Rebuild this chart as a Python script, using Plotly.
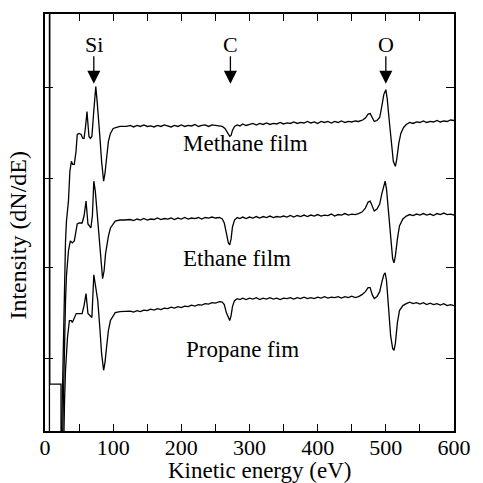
import plotly.graph_objects as go

# ---------------- data: (kinetic energy eV, intensity a.u.) ----------------
methane_pts = [
    (6.5, 63), (6.5, -5), (24.4, 0.0), (25.8, 5.1), (27.2, 11.1), (28.7, 16.1), (30.1, 19.1),
    (31.5, 21.1), (34.4, 23.1), (36.5, 26.1), (38.7, 27.1), (40.5, 26.8), (43.0, 26.8),
    (45.5, 28.1), (47.3, 29.8), (50.0, 29.9), (53.0, 29.8), (55.5, 29.4), (57.3, 29.4),
    (59.5, 30.6), (61.6, 32.1), (63.3, 30.6), (64.5, 29.6), (66.5, 29.4), (68.8, 29.6),
    (71.5, 32.1), (74.5, 34.6), (76.5, 33.1), (78.8, 31.4), (81.0, 29.1), (83.0, 27.1),
    (86.0, 25.1), (88.0, 25.9), (90.0, 27.4), (93.0, 29.1), (96.0, 29.9), (100, 30.4),
    (105, 30.5), (110, 30.6), (117, 30.6),
    (120, 30.6), (125, 30.7), (130, 30.55), (135, 30.7), (140, 30.6), (145, 30.75), (150, 30.6),
    (155, 30.65), (160, 30.55), (165, 30.7), (170, 30.6), (175, 30.75), (180, 30.65),
    (185, 30.55), (190, 30.7), (195, 30.6), (200, 30.75), (205, 30.6), (210, 30.7), (215, 30.65),
    (220, 30.8), (225, 30.6), (230, 30.7), (235, 30.75), (240, 30.6), (245, 30.75), (250, 30.7),
    (255, 30.65), (260, 30.6), (264, 30.4), (268, 30.0), (271, 29.6), (273, 29.7), (275, 30.2),
    (278, 30.6), (282, 30.75), (286, 30.65), (290, 30.85), (295, 30.7), (300, 30.8), (305, 30.9),
    (310, 30.75), (315, 30.9), (320, 30.8), (325, 30.95), (330, 30.8), (335, 30.9), (340, 30.85),
    (345, 31.0), (350, 30.85), (355, 30.95), (360, 30.9), (365, 31.05), (370, 30.9), (375, 31.0),
    (380, 30.95), (385, 31.1), (390, 30.95), (395, 31.05), (400, 30.9), (405, 31.1), (410, 31.0),
    (415, 31.1), (420, 30.95), (425, 31.1), (430, 31.0), (435, 31.15), (440, 31.0), (445, 31.1),
    (450, 31.05), (455, 31.15), (460, 31.1), (466, 31.25), (470, 31.45), (474, 31.85),
    (477, 31.9), (480, 31.5), (483, 31.1), (487, 31.2), (491, 31.5), (494, 32.6), (497, 33.8),
    (500, 34.3), (502, 33.4), (505, 31.2), (508, 28.9), (511, 27.1), (514, 26.6), (516, 27.3),
    (519, 28.9), (522, 29.9), (526, 30.5), (530, 30.8), (535, 31.0), (540, 30.9), (545, 31.05),
    (550, 31.0), (555, 31.15), (560, 31.0), (565, 31.1), (570, 31.05), (575, 31.2), (580, 31.05),
    (585, 31.15), (590, 31.1), (595, 31.25), (600, 31.2),
]

ethane_pts = [
    (24.5, -5), (25.8, 0.0), (27.2, 4.1), (28.7, 9.1), (30.1, 13.1), (31.5, 15.6), (33.0, 17.1),
    (34.4, 18.1), (37.2, 19.1), (40.1, 18.9), (43.0, 19.1), (47.3, 20.8), (50.1, 20.9),
    (54.4, 20.9), (57.3, 21.6), (60.2, 23.1), (63.0, 20.8), (67.3, 20.4), (69.5, 21.6),
    (71.6, 25.1), (73.8, 24.1), (75.9, 22.4), (78.8, 20.1), (81.7, 17.8), (84.5, 15.3),
    (86.7, 16.1), (88.8, 17.8), (93.1, 19.6), (96.0, 20.4), (103, 21.1), (110, 21.2), (117, 21.2),
    (125, 21.25), (130, 21.15), (135, 21.3), (140, 21.2), (145, 21.35), (150, 21.2), (155, 21.3),
    (160, 21.25), (165, 21.4), (170, 21.25), (175, 21.35), (180, 21.3), (185, 21.4), (190, 21.25),
    (195, 21.4), (200, 21.3), (205, 21.45), (210, 21.3), (215, 21.4), (220, 21.35), (225, 21.45),
    (230, 21.3), (235, 21.45), (240, 21.4), (245, 21.5), (250, 21.4), (256, 21.45), (260, 21.3),
    (263, 20.9), (266, 19.9), (269, 18.9), (271, 18.7), (273, 19.3), (275, 20.5), (278, 21.2),
    (282, 21.45), (286, 21.35), (290, 21.5), (295, 21.35), (300, 21.5), (305, 21.4), (310, 21.55),
    (315, 21.4), (320, 21.55), (325, 21.45), (330, 21.6), (335, 21.45), (340, 21.55), (345, 21.5),
    (350, 21.6), (355, 21.5), (360, 21.65), (365, 21.5), (370, 21.65), (375, 21.55), (380, 21.7),
    (385, 21.55), (390, 21.7), (395, 21.6), (400, 21.75), (405, 21.6), (410, 21.7), (415, 21.65),
    (420, 21.8), (425, 21.6), (430, 21.75), (435, 21.7), (440, 21.85), (445, 21.7), (450, 21.8),
    (455, 21.75), (460, 21.85), (465, 22.0), (470, 22.4), (474, 23.0), (477, 23.1), (480, 22.5),
    (483, 22.1), (487, 22.3), (491, 22.8), (494, 23.8), (497, 24.8), (499, 25.1), (501, 24.3),
    (504, 21.8), (507, 19.0), (510, 17.3), (512, 16.9), (514, 17.6), (517, 19.3), (520, 20.6),
    (525, 21.3), (530, 21.6), (535, 21.75), (540, 21.65), (545, 21.8), (550, 21.7), (555, 21.85),
    (560, 21.7), (565, 21.8), (570, 21.65), (575, 21.85), (580, 21.75), (585, 21.9), (590, 21.75),
    (595, 21.8), (600, 21.7),
]

propane_pts = [
    (7.0, 60), (7.0, 4.7), (23.5, 4.7), (23.5, -5), (26.5, -5), (27.2, 0.0), (28.7, 3.1),
    (30.1, 6.1), (31.5, 8.1), (33.0, 9.4), (35.8, 11.1), (38.7, 11.1), (40.1, 10.9), (43.0, 11.3),
    (45.8, 11.8), (50.1, 11.8), (54.4, 11.8), (57.3, 12.6), (60.2, 13.8), (63.0, 11.8),
    (65.9, 11.6), (68.8, 11.4), (71.6, 15.7), (74.5, 14.6), (77.4, 13.1), (80.2, 10.6),
    (83.0, 7.8), (86.0, 6.1), (88.0, 6.9), (90.3, 8.4), (93.0, 10.1), (96.0, 11.1), (103, 11.9),
    (110, 12.0), (117, 12.0),
    (125, 12.05), (130, 11.95), (135, 12.1), (140, 12.0), (145, 12.15), (150, 12.1), (155, 12.25),
    (160, 12.15), (165, 12.3), (170, 12.2), (175, 12.35), (180, 12.3), (185, 12.45), (190, 12.35),
    (195, 12.5), (200, 12.4), (205, 12.55), (210, 12.5), (215, 12.65), (220, 12.55), (225, 12.7),
    (230, 12.65), (235, 12.8), (240, 12.75), (245, 12.9), (250, 12.85), (256, 13.0), (260, 12.95),
    (263, 12.7), (266, 11.9), (269, 11.3), (271, 11.1), (273, 11.6), (275, 12.5), (278, 13.1),
    (282, 13.3), (286, 13.2), (290, 13.35), (295, 13.2), (300, 13.35), (305, 13.25), (310, 13.4),
    (315, 13.2), (320, 13.35), (325, 13.25), (330, 13.4), (335, 13.25), (340, 13.35), (345, 13.2),
    (350, 13.35), (355, 13.3), (360, 13.4), (365, 13.25), (370, 13.4), (375, 13.3), (380, 13.45),
    (385, 13.3), (390, 13.4), (395, 13.3), (400, 13.45), (405, 13.35), (410, 13.5), (415, 13.35),
    (420, 13.45), (425, 13.4), (430, 13.5), (435, 13.35), (440, 13.5), (445, 13.4), (450, 13.55),
    (455, 13.4), (460, 13.5), (465, 13.7), (470, 14.0), (474, 14.4), (477, 14.4), (480, 13.7),
    (483, 13.3), (487, 13.5), (491, 14.0), (494, 14.9), (497, 15.7), (499, 15.9), (501, 15.1),
    (504, 12.4), (507, 9.6), (510, 8.3), (512, 8.1), (514, 8.8), (517, 10.9), (520, 12.1),
    (525, 12.6), (530, 12.8), (535, 12.95), (540, 12.8), (545, 12.9), (550, 12.75), (555, 12.9),
    (560, 12.7), (565, 12.85), (570, 12.7), (575, 12.8), (580, 12.65), (585, 12.8), (590, 12.6),
    (595, 12.7), (600, 12.6),
]

film_labels = ["Methane film", "Ethane film", "Propane fim"]
film_label_E = [294, 282, 289]
film_label_I = [28.9, 17.3, 8.2]

element_labels = ["Si", "C", "O"]
element_E = [71.6, 272, 500]

x_tick_vals = list(range(0, 601, 50))
x_tick_text = [str(v) if v % 100 == 0 else "" for v in x_tick_vals]
y_tick_vals = [7.3, 16.4, 25.4, 34.5]

FONT = "Liberation Serif, Times New Roman, serif"

fig = go.Figure()
for pts in (methane_pts, ethane_pts, propane_pts):
    E = [p[0] for p in pts]
    I = [p[1] for p in pts]
    fig.add_trace(go.Scatter(x=E, y=I, mode="lines",
                             line=dict(color="black", width=1.3), showlegend=False,
                             hoverinfo="skip"))

annotations = []
for t, x, y in zip(film_labels, film_label_E, film_label_I):
    annotations.append(dict(x=x, y=y, xref="x", yref="y", text=t, showarrow=False,
                            font=dict(family=FONT, size=23, color="black")))
for t, x in zip(element_labels, element_E):
    annotations.append(dict(x=x, y=38.8, xref="x", yref="y", text=t, showarrow=False,
                            font=dict(family=FONT, size=22, color="black")))
    annotations.append(dict(x=x, y=34.9, xref="x", yref="y", text="", showarrow=True,
                            ax=0, ay=-29, arrowhead=2, arrowsize=2.0, arrowwidth=1.3,
                            arrowcolor="black"))
annotations.append(dict(x=0.525, y=-0.0955, xref="paper", yref="paper",
                        text="Kinetic energy (eV)", showarrow=False,
                        xanchor="center", yanchor="middle",
                        font=dict(family=FONT, size=23, color="black")))
annotations.append(dict(x=-0.067, y=0.47, xref="paper", yref="paper",
                        text="Intensity (dN/dE)", showarrow=False, textangle=-90,
                        xanchor="center", yanchor="middle",
                        font=dict(family=FONT, size=24, color="black")))

fig.update_layout(
    width=483, height=483,
    margin=dict(l=45, r=19, t=12, b=52),
    paper_bgcolor="white", plot_bgcolor="white",
    font=dict(family=FONT, size=22, color="black"),
    annotations=annotations,
    xaxis=dict(range=[0, 600], tickvals=x_tick_vals, ticktext=x_tick_text,
               ticks="inside", ticklen=7, tickwidth=1.2, tickcolor="black",
               showline=True, linecolor="black", linewidth=1.5, mirror="ticks",
               showgrid=False, zeroline=False, ticklabelstandoff=-4,
               tickfont=dict(family=FONT, size=22, color="black")),
    yaxis=dict(range=[0, 41.9], tickvals=y_tick_vals, showticklabels=False,
               ticks="inside", ticklen=8, tickwidth=1.2, tickcolor="black",
               showline=True, linecolor="black", linewidth=1.5, mirror="ticks",
               showgrid=False, zeroline=False),
)

fig.write_html("out.html")
